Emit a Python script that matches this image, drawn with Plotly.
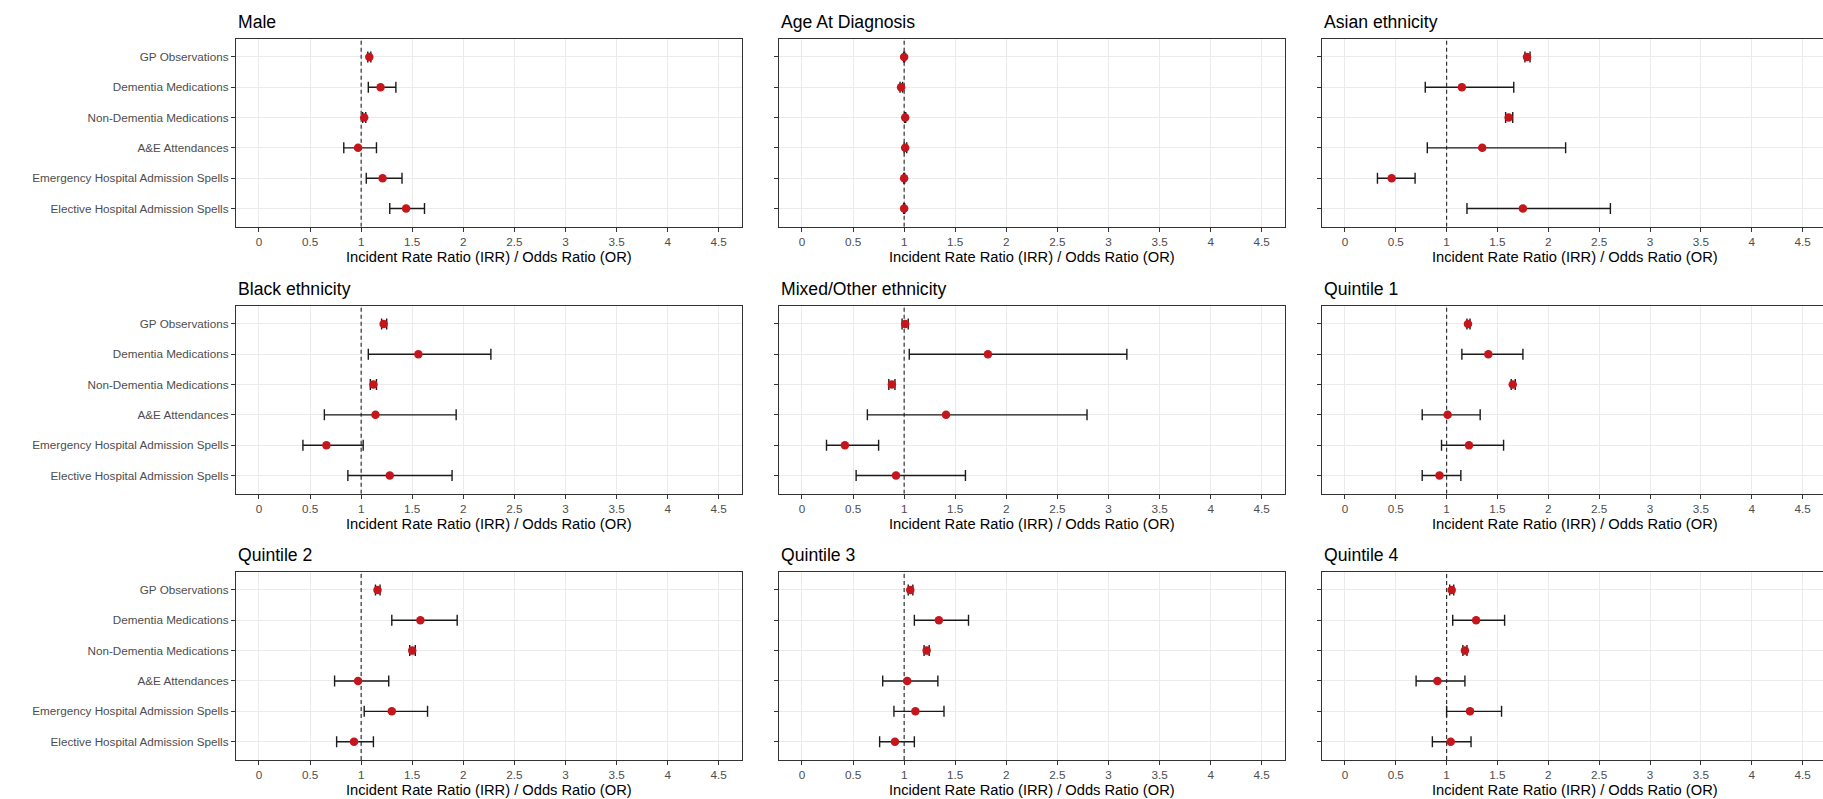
import plotly.graph_objects as go

# ---------------- data ----------------
outcomes = ["GP Observations", "Dementia Medications", "Non-Dementia Medications",
            "A&E Attendances", "Emergency Hospital Admission Spells",
            "Elective Hospital Admission Spells"]

panel_titles = ["Male", "Age At Diagnosis", "Asian ethnicity",
                "Black ethnicity", "Mixed/Other ethnicity", "Quintile 1",
                "Quintile 2", "Quintile 3", "Quintile 4"]

male_est = [1.08, 1.19, 1.03, 0.97, 1.21, 1.44]
male_lo = [1.065, 1.07, 1.015, 0.83, 1.05, 1.28]
male_hi = [1.095, 1.34, 1.045, 1.15, 1.40, 1.62]

age_est = [1.00, 0.97, 1.01, 1.01, 1.00, 1.00]
age_lo = [0.995, 0.96, 1.005, 1.00, 0.995, 0.995]
age_hi = [1.005, 0.985, 1.015, 1.025, 1.005, 1.005]

asian_est = [1.79, 1.15, 1.61, 1.35, 0.46, 1.75]
asian_lo = [1.77, 0.79, 1.58, 0.81, 0.32, 1.20]
asian_hi = [1.82, 1.66, 1.65, 2.17, 0.69, 2.61]

black_est = [1.22, 1.56, 1.12, 1.14, 0.66, 1.28]
black_lo = [1.20, 1.07, 1.09, 0.64, 0.43, 0.87]
black_hi = [1.25, 2.27, 1.15, 1.93, 1.02, 1.89]

mixed_est = [1.01, 1.82, 0.88, 1.41, 0.42, 0.92]
mixed_lo = [0.98, 1.05, 0.85, 0.64, 0.24, 0.53]
mixed_hi = [1.04, 3.18, 0.91, 2.79, 0.75, 1.60]

q1_est = [1.21, 1.41, 1.65, 1.01, 1.22, 0.93]
q1_lo = [1.20, 1.15, 1.635, 0.76, 0.95, 0.76]
q1_hi = [1.23, 1.75, 1.675, 1.33, 1.56, 1.14]

q2_est = [1.16, 1.58, 1.50, 0.97, 1.30, 0.93]
q2_lo = [1.14, 1.30, 1.475, 0.74, 1.03, 0.76]
q2_hi = [1.185, 1.94, 1.53, 1.27, 1.65, 1.12]

q3_est = [1.06, 1.34, 1.22, 1.03, 1.11, 0.91]
q3_lo = [1.04, 1.10, 1.195, 0.79, 0.90, 0.76]
q3_hi = [1.085, 1.63, 1.245, 1.33, 1.39, 1.10]

q4_est = [1.05, 1.29, 1.18, 0.91, 1.23, 1.04]
q4_lo = [1.03, 1.06, 1.16, 0.70, 1.00, 0.86]
q4_hi = [1.07, 1.57, 1.20, 1.18, 1.54, 1.24]

x_ticks = [0, 0.5, 1, 1.5, 2, 2.5, 3, 3.5, 4, 4.5]
x_tick_text = ["0", "0.5", "1", "1.5", "2", "2.5", "3", "3.5", "4", "4.5"]
x_title = "Incident Rate Ratio (IRR) / Odds Ratio (OR)"
ref_value = 1

panel_data = [
    (male_est, male_lo, male_hi), (age_est, age_lo, age_hi), (asian_est, asian_lo, asian_hi),
    (black_est, black_lo, black_hi), (mixed_est, mixed_lo, mixed_hi), (q1_est, q1_lo, q1_hi),
    (q2_est, q2_lo, q2_hi), (q3_est, q3_lo, q3_hi), (q4_est, q4_lo, q4_hi),
]

# ---------------- layout geometry (pixels) ----------------
W, H = 1823, 799
col_left = [236, 779, 1322]
col_right = [741.7, 1284.7, 1823]
row_top = [38.7, 305.7, 571.7]
row_bot = [226.7, 493.7, 759.9]
title_y = [21.5, 288.5, 554.5]
axis_title_y = [257, 524, 790]
x_ranges = [[-0.225, 4.725], [-0.225, 4.725], [-0.225, 4.70]]
y_range = [-0.6, 5.6]

def fx(px):
    return px / W

def fy(py):
    return 1 - py / H

FONT = "Arial, Liberation Sans, sans-serif"
POINT_COLOR = "#C4161C"
BORDER = "#333333"
GRID = "#EBEBEB"

fig = go.Figure()
layout = dict(
    width=W, height=H,
    margin=dict(l=0, r=0, t=0, b=0),
    paper_bgcolor="white", plot_bgcolor="white",
    showlegend=False,
    font=dict(family=FONT, color="#4D4D4D"),
)
annotations = []
shapes = []

for i, (est, lo, hi) in enumerate(panel_data):
    r, c = divmod(i, 3)
    k = i + 1
    xa = "x" if k == 1 else f"x{k}"
    ya = "y" if k == 1 else f"y{k}"
    plus = [h - e for h, e in zip(hi, est)]
    minus = [e - l for e, l in zip(est, lo)]
    fig.add_trace(go.Scatter(
        x=est, y=outcomes, mode="markers",
        xaxis=xa, yaxis=ya,
        marker=dict(color=POINT_COLOR, size=8.5, line=dict(width=0)),
        error_x=dict(type="data", symmetric=False, array=plus, arrayminus=minus,
                     color="#1A1A1A", thickness=1.4, width=5.5),
        hoverinfo="x+y",
    ))
    layout["xaxis" if k == 1 else f"xaxis{k}"] = dict(
        domain=[fx(col_left[c]), fx(col_right[c])],
        anchor=ya, range=x_ranges[c],
        tickmode="array", tickvals=x_ticks, ticktext=x_tick_text,
        showgrid=True, gridcolor=GRID, gridwidth=1,
        zeroline=False,
        showline=True, mirror=True, linecolor=BORDER, linewidth=1.3,
        ticks="outside", ticklen=4, tickwidth=1, tickcolor=BORDER,
        tickfont=dict(family=FONT, size=11.7, color="#4D4D4D"),
        automargin=False, fixedrange=True,
    )
    layout["yaxis" if k == 1 else f"yaxis{k}"] = dict(
        domain=[fy(row_bot[r]), fy(row_top[r])],
        anchor=xa, type="category",
        categoryorder="array", categoryarray=list(reversed(outcomes)),
        range=y_range,
        showgrid=True, gridcolor=GRID, gridwidth=1,
        zeroline=False,
        showline=True, mirror=True, linecolor=BORDER, linewidth=1.3,
        ticks="outside", ticklen=4, tickwidth=1, tickcolor=BORDER,
        showticklabels=(c == 0),
        tickfont=dict(family=FONT, size=11.7, color="#4D4D4D"),
        automargin=False, fixedrange=True,
    )
    shapes.append(dict(
        type="line", xref=xa, yref=ya,
        x0=ref_value, x1=ref_value, y0=y_range[0], y1=y_range[1],
        line=dict(color=BORDER, width=1.2, dash="4px,3px"),
        layer="between",
    ))
    annotations.append(dict(
        text=panel_titles[i], xref="paper", yref="paper",
        x=fx(col_left[c]), y=fy(title_y[r]),
        xanchor="left", yanchor="middle", showarrow=False,
        font=dict(family=FONT, size=17.6, color="black"),
    ))
    annotations.append(dict(
        text=x_title, xref="paper", yref="paper",
        x=fx(col_left[c] + 505.7 / 2), y=fy(axis_title_y[r]),
        xanchor="center", yanchor="middle", showarrow=False,
        font=dict(family=FONT, size=14.7, color="black"),
    ))

layout["annotations"] = annotations
layout["shapes"] = shapes
fig.update_layout(**layout)

fig.write_html(
    "out.html",
    config={"displayModeBar": False},
    post_script="document.body.style.margin='0px';document.body.style.overflow='hidden';",
)
